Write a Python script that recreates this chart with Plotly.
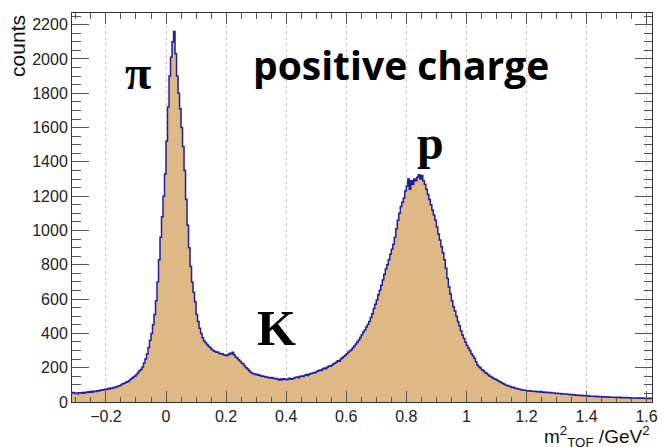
import plotly.graph_objects as go

# histogram: m2_TOF bins of width 0.005 from -0.315 to 1.62
bin_start = -0.315
bin_width = 0.005
counts = [
    52, 55, 50, 53, 48, 54, 52, 56, 51, 57,
    55, 60, 57, 62, 59, 63, 61, 66, 64, 70,
    68, 72, 75, 73, 78, 76, 82, 80, 86, 84,
    90, 94, 96, 102, 106, 110, 115, 118, 124, 132,
    138, 146, 152, 160, 172, 182, 190, 204, 228, 250,
    280, 318, 360, 400, 450, 510, 590, 700, 830, 960,
    1080, 1200, 1330, 1520, 1720, 1900, 2010, 2100, 2160, 2030,
    1900, 1800, 1710, 1600, 1490, 1350, 1180, 1030, 900, 790,
    700, 640, 585, 510, 470, 430, 400, 375, 355, 345,
    335, 325, 318, 308, 300, 296, 290, 292, 284, 280,
    282, 276, 272, 270, 275, 284, 280, 290, 276, 262,
    256, 246, 238, 228, 222, 210, 200, 192, 182, 174,
    168, 164, 160, 162, 156, 157, 150, 152, 148, 145,
    146, 142, 140, 143, 138, 135, 137, 132, 128, 134,
    130, 136, 132, 129, 134, 138, 133, 136, 140, 144,
    146, 142, 150, 152, 148, 156, 160, 155, 162, 166,
    168, 172, 170, 178, 182, 186, 184, 192, 198, 194,
    202, 210, 208, 214, 222, 226, 232, 240, 238, 250,
    258, 265, 272, 282, 290, 298, 305, 316, 326, 338,
    350, 362, 376, 392, 408, 420, 438, 452, 470, 492,
    515, 545, 570, 595, 625, 652, 680, 712, 745, 775,
    800, 830, 862, 890, 920, 960, 1010, 1060, 1100, 1140,
    1165, 1190, 1230, 1260, 1300, 1240, 1290, 1270, 1300, 1290,
    1310, 1325, 1300, 1320, 1290, 1270, 1240, 1210, 1180, 1150,
    1120, 1090, 1060, 1020, 980, 945, 905, 870, 830, 780,
    720, 670, 630, 590, 555, 530, 500, 470, 445, 415,
    390, 370, 350, 330, 315, 300, 282, 268, 255, 235,
    215, 205, 198, 188, 182, 172, 168, 160, 152, 148,
    142, 136, 132, 128, 122, 118, 112, 108, 104, 98,
    96, 92, 90, 84, 86, 80, 78, 76, 74, 72,
    70, 68, 69, 66, 64, 65, 62, 63, 61, 62,
    60, 59, 61, 57, 58, 56, 57, 55, 54, 56,
    52, 53, 50, 51, 49, 50, 47, 48, 46, 47,
    45, 44, 42, 43, 41, 42, 40, 40, 38, 39,
    37, 38, 36, 35, 36, 34, 33, 34, 32, 33,
    31, 32, 30, 31, 29, 30, 29, 28, 29, 28,
    27, 28, 26, 27, 26, 27, 25, 26, 25, 26,
    25, 24, 25, 23, 24, 23, 24, 22, 23, 22,
    23, 22, 21, 22, 21, 22, 20,
]

edges = [round(bin_start + bin_width * i, 4) for i in range(len(counts) + 1)]
step_y = counts + [counts[-1]]

x_range = [-0.313, 1.618]
y_range = [0, 2268]

fig = go.Figure()
fig.add_trace(go.Scatter(
    x=edges, y=step_y, mode="lines", line_shape="hv",
    line=dict(color="#1f1f9c", width=1.5),
    fill="tozeroy", fillcolor="#dfb985",
    hoverinfo="skip", showlegend=False,
))

tickfont = dict(family="Liberation Sans, Arial, sans-serif", size=16, color="#222")

fig.update_xaxes(
    range=x_range, tick0=0, dtick=0.2,
    showgrid=True, gridcolor="#c8c8c8", griddash="dot", gridwidth=1,
    zeroline=False, showline=True, linecolor="#333", linewidth=1,
    mirror="allticks", ticks="inside", ticklen=11, tickcolor="#555", tickwidth=1,
    minor=dict(ticks="inside", dtick=0.05, ticklen=5.5, tickcolor="#555", showgrid=False),
    tickfont=tickfont,
)
fig.update_yaxes(
    range=y_range, tick0=0, dtick=200,
    showgrid=False, zeroline=False, showline=True, linecolor="#333", linewidth=1,
    mirror="allticks", ticks="inside", ticklen=17, tickcolor="#555", tickwidth=1,
    minor=dict(ticks="inside", dtick=50, ticklen=8.5, tickcolor="#555", showgrid=False),
    tickfont=tickfont,
)

serif = "Liberation Serif, Times New Roman, serif"
annotations = [
    dict(text="counts", x=-0.095, y=1.0, xref="paper", yref="paper",
         xanchor="center", yanchor="top", textangle=-90, showarrow=False,
         font=dict(family="Liberation Sans, Arial, sans-serif", size=21, color="#111")),
    dict(text="m<sup>2</sup><sub>TOF</sub> /GeV<sup>2</sup>", x=1.0, y=-0.05,
         xref="paper", yref="paper", xanchor="right", yanchor="top", showarrow=False,
         font=dict(family="Liberation Sans, Arial, sans-serif", size=19, color="#111")),
    dict(text="<b>π</b>", x=-0.092, y=1920, xref="x", yref="y", showarrow=False,
         xanchor="center", yanchor="middle",
         font=dict(family=serif, size=48, color="black")),
    dict(text="<b>positive charge</b>", x=0.781, y=1965, xref="x", yref="y", showarrow=False,
         xanchor="center", yanchor="middle",
         font=dict(family="Open Sans, sans-serif", size=39, color="black")),
    dict(text="<b>p</b>", x=0.879, y=1515, xref="x", yref="y", showarrow=False,
         xanchor="center", yanchor="middle",
         font=dict(family=serif, size=48, color="black")),
    dict(text="<b>K</b>", x=0.368, y=430, xref="x", yref="y", showarrow=False,
         xanchor="center", yanchor="middle",
         font=dict(family=serif, size=50, color="black")),
]

fig.update_layout(
    width=664, height=447,
    margin=dict(l=72, r=6, t=13, b=45),
    paper_bgcolor="white", plot_bgcolor="white",
    annotations=annotations,
    showlegend=False,
)

fig.write_html("out.html")
